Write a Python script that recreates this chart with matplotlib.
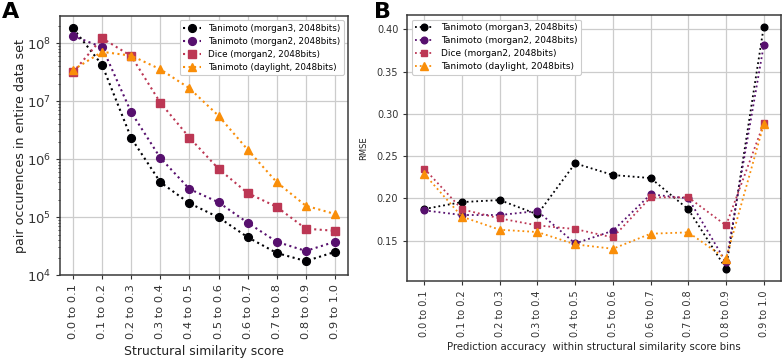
import matplotlib
matplotlib.use("Agg")
import matplotlib.pyplot as plt
from matplotlib.ticker import LogLocator, NullFormatter

plt.rcParams['font.family'] = ['DejaVu Sans']

bins = ["0.0 to 0.1", "0.1 to 0.2", "0.2 to 0.3", "0.3 to 0.4", "0.4 to 0.5",
        "0.5 to 0.6", "0.6 to 0.7", "0.7 to 0.8", "0.8 to 0.9", "0.9 to 1.0"]
labels = ["Tanimoto (morgan3, 2048bits)", "Tanimoto (morgan2, 2048bits)",
          "Dice (morgan2, 2048bits)", "Tanimoto (daylight, 2048bits)"]

# Panel A: pair occurrences
occ_morgan3 = [1.8e8, 4.2e7, 2.3e6, 4.0e5, 1.73e5, 9.9e4, 4.5e4, 2.4e4, 1.74e4, 2.5e4]
occ_morgan2 = [1.34e8, 8.5e7, 6.4e6, 1.05e6, 3.05e5, 1.8e5, 8.0e4, 3.75e4, 2.6e4, 3.75e4]
occ_dice = [3.16e7, 1.22e8, 6.0e7, 9.4e6, 2.35e6, 6.8e5, 2.6e5, 1.5e5, 6.3e4, 5.8e4]
occ_daylight = [3.46e7, 7.1e7, 6.1e7, 3.55e7, 1.67e7, 5.6e6, 1.46e6, 4.0e5, 1.57e5, 1.13e5]

# Panel B: RMSE
rmse_morgan3 = [0.1875, 0.1957, 0.1981, 0.1812, 0.2415, 0.2277, 0.2241, 0.1871, 0.1169, 0.4032]
rmse_morgan2 = [0.1859, 0.1804, 0.1804, 0.1851, 0.1468, 0.1618, 0.2048, 0.2001, 0.1244, 0.3811]
rmse_dice = [0.2352, 0.1871, 0.1764, 0.1681, 0.1638, 0.1539, 0.2013, 0.2013, 0.1681, 0.2888]
rmse_daylight = [0.2289, 0.1784, 0.1630, 0.1603, 0.1457, 0.1405, 0.1583, 0.1599, 0.1287, 0.2876]

colors = ["#000004", "#57106e", "#bc3754", "#f98e09"]
markers = ["o", "o", "s", "^"]

fig = plt.figure(figsize=(7.83, 3.58), dpi=100)
axA = fig.add_axes([0.0766, 0.2318, 0.3678, 0.7235])
axB = fig.add_axes([0.5202, 0.2151, 0.4769, 0.743])

x = list(range(len(bins)))

for ax in (axA, axB):
    ax.set_axisbelow(True)
    ax.grid(True, color="#cccccc", linewidth=0.9)
    for s in ax.spines.values():
        s.set_color("#3a3a3a")
        s.set_linewidth(1.1)
    ax.tick_params(colors="#333333", length=3, width=0.8)
    ax.set_xticks(x)

axA.set_xticklabels(bins, rotation=90, fontsize=8.2)
axB.set_xticklabels(bins, rotation=90, fontsize=7)
axB.tick_params(axis="y", labelsize=7)

seriesA = [occ_morgan3, occ_morgan2, occ_dice, occ_daylight]
for vals, c, m, lab in zip(seriesA, colors, markers, labels):
    axA.plot(x, vals, linestyle=":", linewidth=1.5, color=c, marker=m,
             markersize=5.6 if m != "^" else 6.2, label=lab)
axA.set_yscale("log")
axA.set_ylim(1e4, 2.95e8)
axA.set_xlim(-0.45, 9.45)
axA.yaxis.set_minor_locator(LogLocator(base=10, subs=range(2, 10), numticks=20))
axA.yaxis.set_minor_formatter(NullFormatter())
axA.tick_params(axis="y", which="minor", length=1.5, width=0.5)
axA.tick_params(axis="y", labelsize=9.5)
axA.set_ylabel("pair occurences in entire data set", fontsize=9.1, color="#222222",
               labelpad=0)
axA.set_xlabel("Structural similarity score", fontsize=8.9, color="#222222",
               labelpad=4)
legA = axA.legend(loc="upper right", fontsize=6.3, frameon=True, framealpha=1,
                  edgecolor="#cccccc", borderpad=0.4, labelspacing=0.45,
                  handlelength=2.0, markerscale=1.0)
legA.get_frame().set_linewidth(0.8)

seriesB = [rmse_morgan3, rmse_morgan2, rmse_dice, rmse_daylight]
for vals, c, m, lab in zip(seriesB, colors, markers, labels):
    axB.plot(x, vals, linestyle=":", linewidth=1.3, color=c, marker=m,
             markersize=4.8 if m != "^" else 5.3, label=lab)
axB.set_xlim(-0.45, 9.45)
axB.set_ylim(0.1024, 0.4169)
axB.set_yticks([0.15, 0.20, 0.25, 0.30, 0.35, 0.40])
axB.set_yticklabels(["0.15", "0.20", "0.25", "0.30", "0.35", "0.40"])
axB.set_ylabel("RMSE", fontsize=6, color="#222222", labelpad=6)
axB.set_xlabel("Prediction accuracy  within structural similarity score bins",
               fontsize=7.3, color="#222222")
legB = axB.legend(loc="upper left", fontsize=6.5, frameon=True, framealpha=1,
                  edgecolor="#cccccc", borderpad=0.4, labelspacing=0.45,
                  handlelength=2.0, markerscale=1.0)
legB.get_frame().set_linewidth(0.8)

fig.text(0.003, 0.995, "A", fontsize=16, fontweight="bold", va="top", ha="left")
fig.text(0.478, 0.995, "B", fontsize=16, fontweight="bold", va="top", ha="left")

fig.savefig("out.png", dpi=100)
